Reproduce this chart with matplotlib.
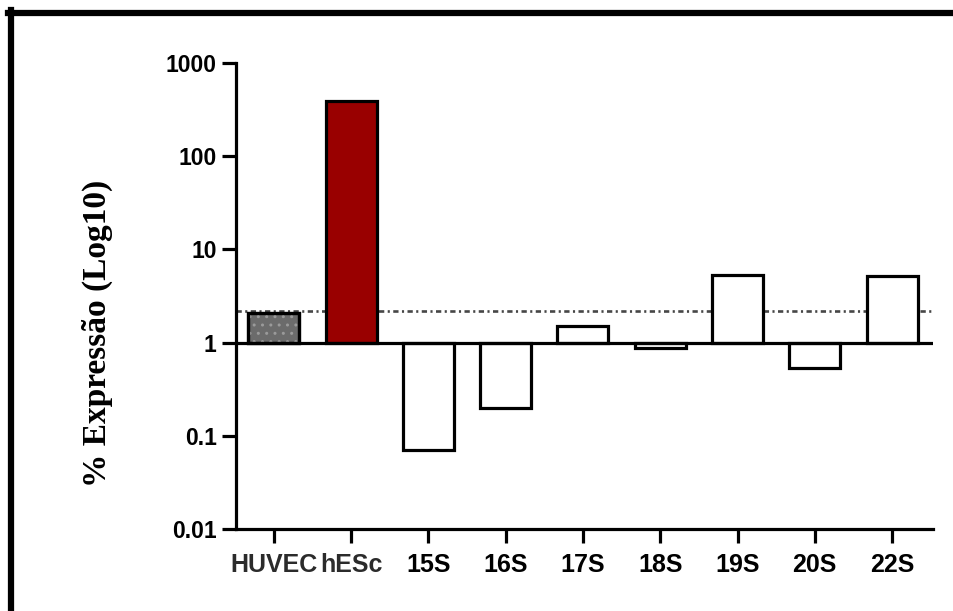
import matplotlib
matplotlib.use("Agg")
import matplotlib.pyplot as plt
from matplotlib.lines import Line2D

# amostras e expressão relativa (%), escala log
amostras = ["HUVEC", "hESc", "15S", "16S", "17S", "18S", "19S", "20S", "22S"]
expressao = [2.1, 395, 0.071, 0.20, 1.52, 0.88, 5.35, 0.54, 5.13]
cores = ["#6b6b6b", "#990000"] + ["white"] * 7
cores_rotulo = ["#2b2b2b", "#2b2b2b"] + ["black"] * 7
limiar = 2.2

W, H = 954, 611
fig = plt.figure(figsize=(W / 100, H / 100), dpi=100)
ax = fig.add_axes([236 / W, 1 - 529 / H, (933 - 236) / W, (529 - 63) / H])

x = list(range(len(amostras)))
base = 1.0
alturas = [v - base for v in expressao]

# barras a partir de 1 (acima ou abaixo)
ax.bar(x, alturas, bottom=base, width=0.66, color=cores,
       edgecolor="black", linewidth=2.3, zorder=3)
# pontilhado claro na barra HUVEC
ax.bar(x[0], alturas[0], bottom=base, width=0.66, color="none",
       edgecolor="#9a9a9a", hatch="..", linewidth=0, zorder=4)
ax.bar(x[0], alturas[0], bottom=base, width=0.66, color="none",
       edgecolor="black", linewidth=2.3, zorder=5)

ax.axhline(base, color="black", linewidth=2.3, zorder=6)
ax.axhline(limiar, color="#474747", linewidth=1.9,
           linestyle=(0, (2.0, 1.3, 0.8, 1.3)), zorder=2)

ax.set_yscale("log")
ax.set_ylim(0.01, 1000)
ax.set_xlim(-0.49, 8.53)
ax.set_yticks([0.01, 0.1, 1, 10, 100, 1000])
ax.set_yticklabels(["0.01", "0.1", "1", "10", "100", "1000"])
ax.minorticks_off()
ax.set_xticks(x)
ax.set_xticklabels(amostras)
for lbl, c in zip(ax.get_xticklabels(), cores_rotulo):
    lbl.set_color(c)

for s in ["top", "right"]:
    ax.spines[s].set_visible(False)
for s in ["left", "bottom"]:
    ax.spines[s].set_linewidth(2.3)

ax.tick_params(axis="both", length=10, width=2.3, color="black")
ax.tick_params(axis="y", pad=4)
ax.tick_params(axis="x", pad=7)
for lbl in ax.get_yticklabels():
    lbl.set_fontfamily("Liberation Sans")
    lbl.set_fontweight("bold")
    lbl.set_fontsize(16.5)
for lbl in ax.get_xticklabels():
    lbl.set_fontfamily("Liberation Sans")
    lbl.set_fontweight("bold")
    lbl.set_fontsize(18)

fig.text(97 / W, 1 - 333 / H, "% Expressão (Log10)", rotation=90,
         ha="center", va="center", fontfamily="Liberation Serif",
         fontweight="bold", fontsize=24)

# moldura (topo e lado esquerdo)
fig.add_artist(Line2D([8 / W, 1], [1 - 13 / H, 1 - 13 / H],
                      color="black", linewidth=4.5, transform=fig.transFigure))
fig.add_artist(Line2D([11 / W, 11 / W], [0, 1 - 10 / H],
                      color="black", linewidth=4.5, transform=fig.transFigure))

fig.savefig("out.png", dpi=100)
